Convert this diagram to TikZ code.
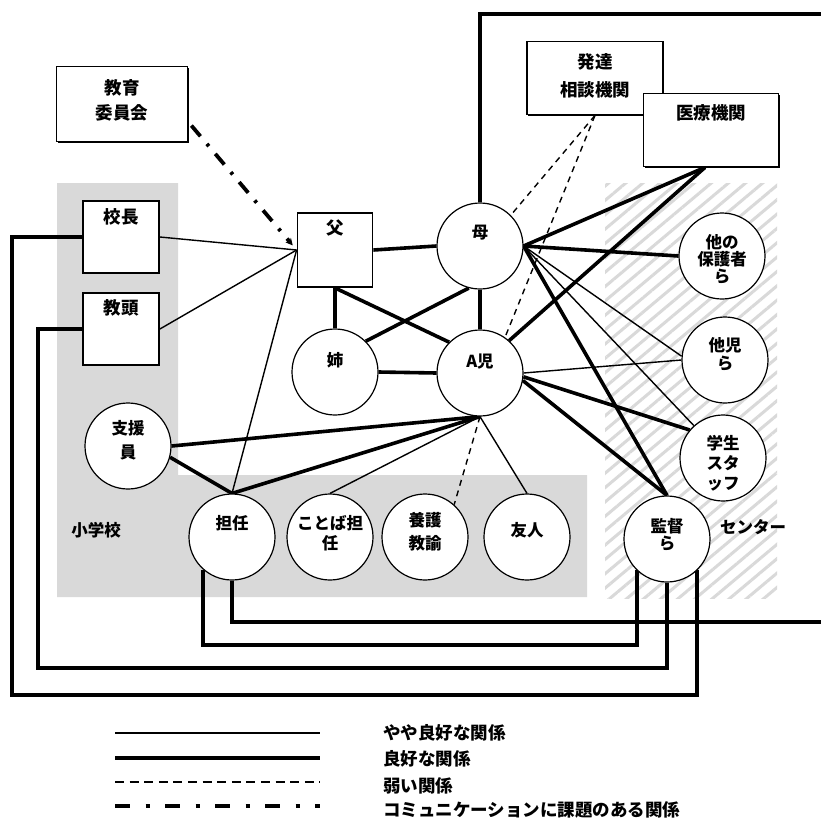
\documentclass[tikz,border=0pt]{standalone}
\usepackage{fontspec}
\setmainfont{Noto Sans CJK JP}
\usetikzlibrary{patterns.meta,arrows.meta,shadows}
\pgfdeclarelayer{bg}\pgfdeclarelayer{ln}
\pgfsetlayers{bg,ln,main}
\begin{document}
\begin{tikzpicture}[x=1pt,y=-1pt,
  box/.style={draw,line width=1.8pt,fill=white,rectangle,inner sep=0pt},
  sbox/.style={box,drop shadow={shadow xshift=1.3pt,shadow yshift=-1.3pt,fill=black,opacity=1}},
  circ/.style={draw,circle,line width=1.2pt,fill=white,minimum size=86pt,inner sep=0pt},
  txt/.style={font=\fontsize{16.5pt}{20pt}\selectfont\bfseries,align=center,inner sep=0pt},
  btxt/.style={font=\fontsize{17.5pt}{20pt}\selectfont\bfseries,align=center,inner sep=0pt},
  rel1/.style={line width=1.4pt},
  rel2/.style={line width=3.6pt},
  rel3/.style={line width=1.4pt,dash pattern=on 6pt off 5pt},
  rel4/.style={line width=3.8pt,dash pattern=on 14pt off 10pt on 3pt off 10pt},
  wire/.style={line width=3.8pt},
  lg1/.style={line width=2.7pt},
  lg2/.style={line width=4pt},
  lg3/.style={line width=2.5pt,dash pattern=on 9pt off 5.6pt},
  lg4/.style={line width=3.5pt,dash pattern=on 15pt off 15.5pt on 4pt off 15.5pt},
  lgtxt/.style={font=\fontsize{17.5pt}{20pt}\selectfont\bfseries,anchor=west,inner sep=0pt}
]
\useasboundingbox (0,0) rectangle (821,823);

% background regions
\begin{pgfonlayer}{bg}
  \fill[white] (0,0) rectangle (821,823);
  \fill[black!15] (57,183) -- (178,183) -- (178,475) -- (587,475) -- (587,597) -- (57,597) -- cycle;
  \fill[pattern={Lines[angle=40,distance=11pt,line width=3pt]},pattern color=black!15] (605,183) rectangle (777,598);
\end{pgfonlayer}

% boxes
\node[sbox,minimum width=131pt,minimum height=75pt,label={[btxt,yshift=4pt]center:教育\\[5pt]委員会}] (edu) at (122,104) {};
\node[sbox,minimum width=136pt,minimum height=73pt,label={[btxt,yshift=2pt]center:発達\\[8pt]相談機関}] (hattatsu) at (595,78) {};
\node[sbox,minimum width=135pt,minimum height=73pt,label={[btxt,yshift=17pt]center:医療機関}] (iryo) at (711,130) {};
\node[box,minimum width=76pt,minimum height=72pt,label={[btxt,yshift=20pt]center:校長}] (kocho) at (121,237) {};
\node[box,minimum width=76pt,minimum height=72pt,label={[btxt,yshift=21pt]center:教頭}] (kyoto) at (121,329) {};
\node[box,minimum width=75pt,minimum height=74pt,label={[btxt,yshift=22pt]center:父}] (chichi) at (335,250) {};

% circles
\node[circ,label={[txt,yshift=13pt]center:母}] (haha) at (480,246) {};
\node[circ,label={[txt,yshift=12pt]center:姉}] (ane) at (335,372) {};
\node[circ,label={[txt,yshift=11pt]center:A児}] (aji) at (480,373) {};
\node[circ,label={[txt,yshift=6pt]center:支援\\[4pt]員}] (shienin) at (128,446) {};
\node[circ,label={[txt,yshift=14pt]center:担任}] (tannin) at (232,537) {};
\node[circ,label={[txt,yshift=4pt]center:ことば担\\任}] (kotoba) at (330,537) {};
\node[circ,label={[txt,yshift=5pt]center:養護\\[3pt]教諭}] (yogo) at (425,537) {};
\node[circ,label={[txt,yshift=7pt]center:友人}] (yujin) at (527,537) {};
\node[circ,label={[txt,yshift=-3pt]center:他の\\[-3pt]保護者\\[-3pt]ら}] (hoka) at (722,256) {};
\node[circ,label={[txt,yshift=6pt]center:他児\\[-2pt]ら}] (taji) at (725,360) {};
\node[circ,label={[txt,yshift=-5pt]center:学生\\スタ\\ッフ}] (gakusei) at (723,458) {};
\node[circ,label={[txt,yshift=4pt]center:監督\\[-3pt]ら}] (kantoku) at (667,539) {};

% region labels
\node[txt] (shogakko) at (96,530) {小学校};
\node[txt] (center) at (753,527) {センター};

% helper coordinates
\coordinate (w1) at (12,695);
\coordinate (w2) at (38,668);
\coordinate (h3) at (0,645);
\coordinate (w3) at (kantoku.226 |- h3);
\coordinate (fb) at (823,622);
\coordinate (ft) at (823,14);

\begin{pgfonlayer}{ln}
  % around father
  \draw[rel1] (kocho.east) -- (chichi.west);
  \draw[rel1] (kyoto.east) -- (chichi.west);
  \draw[rel1] (tannin.north) -- (chichi.west);
  \draw[rel4,-{Stealth[length=7pt,width=7pt]},shorten >=6pt] ([xshift=3pt]edu.-18) -- (chichi.west);
  \draw[rel2] (chichi.east) -- (haha.west);
  \draw[rel2] (chichi.south) -- (ane.north);
  \draw[rel2] (chichi.south) -- (aji.135);
  \draw[rel2] (ane.45) -- (haha.255);
  \draw[rel2] (haha.south) -- (aji.north);
  \draw[rel2] (ane.east) -- (aji.west);
  % right fan
  \draw[rel2] (haha.east) -- ([xshift=-6pt]iryo.south);
  \draw[rel2] (haha.east) -- (hoka.west);
  \draw[rel1] (haha.east) -- (taji.175);
  \draw[rel1] (haha.east) -- (gakusei.132);
  \draw[rel2] (haha.east) -- (kantoku.north);
  \draw[rel2] (aji.48) -- ([xshift=-6pt]iryo.south);
  \draw[rel3] (hattatsu.south) -- (haha.45);
  \draw[rel3] (hattatsu.south) -- (aji.55);
  \draw[rel1] (aji.east) -- (taji.west);
  \draw[rel2] (aji.-5) -- (gakusei.140);
  \draw[rel2] (aji.-10) -- (kantoku.north);
  % bottom fan
  \draw[rel2] (aji.south) -- (shienin.east);
  \draw[rel2] (aji.south) -- (tannin.north);
  \draw[rel1] (aji.south) -- (kotoba.north);
  \draw[rel3] (aji.south) -- (yogo.48);
  \draw[rel1] (aji.south) -- (yujin.north);
  \draw[rel2] (shienin.-15) -- (tannin.north);
  % long wires
  \draw[wire] (kocho.west) -| (w1) -| (kantoku.314);
  \draw[wire] (kyoto.west) -| (w2) -| (kantoku.south);
  \draw[wire] (tannin.229) |- (w3) -- (kantoku.226);
  \draw[wire] (tannin.south) |- (fb);
  \draw[wire] (haha.north) |- (ft);
\end{pgfonlayer}

% legend
\coordinate (a1) at (115,733); \coordinate (a2) at (320,733);
\coordinate (b1) at (115,758); \coordinate (b2) at (320,758);
\coordinate (c1) at (115,782); \coordinate (c2) at (320,782);
\coordinate (d1) at (115,806); \coordinate (d2) at (320,806);
\draw[lg1] (a1) -- (a2);
\draw[lg2] (b1) -- (b2);
\draw[lg3] (c1) -- (c2);
\draw[lg4] (d1) -- (d2);
\node[lgtxt] (la) at (383,733) {やや良好な関係};
\node[lgtxt] (lb) at (383,759) {良好な関係};
\node[lgtxt] (lc) at (383,786) {弱い関係};
\node[lgtxt] (ld) at (383,810) {コミュニケーションに課題のある関係};
\end{tikzpicture}
\end{document}
